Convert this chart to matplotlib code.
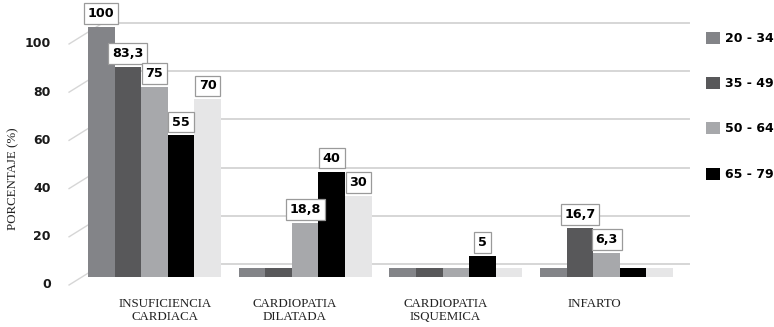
import matplotlib.pyplot as plt
import numpy as np
from matplotlib.patches import Patch

# Porcentaje por patología y grupo de edad
categorias = ['INSUFICIENCIA\nCARDIACA', 'CARDIOPATIA\nDILATADA',
              'CARDIOPATIA\nISQUEMICA', 'INFARTO']
grupos = ['20 - 34', '35 - 49', '50 - 64', '65 - 79', '80 +']
edad_20_34 = [100, 0, 0, 0]
edad_35_49 = [83.3, 0, 0, 16.7]
edad_50_64 = [75, 18.8, 0, 6.3]
edad_65_79 = [55, 40, 5, 0]
edad_80 = [70, 30, 0, 0]
series = [edad_20_34, edad_35_49, edad_50_64, edad_65_79, edad_80]
colores = ['#838488', '#58585a', '#a7a8ab', '#000000', '#e6e6e7']
yticks = [0, 20, 40, 60, 80, 100]

fig = plt.figure(figsize=(7.74, 3.27), dpi=100)
ax = fig.add_axes([0, 0, 1, 1])
ax.set_xlim(-1.0252, 4.1108)
ax.set_ylim(-24.48, 111.2)
ax.axis('off')

x = np.arange(len(categorias))
ancho = 0.1765
suelo = 3.7      # grosor del suelo en la vista 3D
elev = 1.7       # la pared del fondo queda algo más arriba
pared_izq, pared_der = -0.342, 3.547
tick_x, diag_x = -0.687, -0.567
gris = '#d6d6d6'

# Pared del fondo con líneas de división y diagonales del suelo
for g in yticks:
    ax.plot([pared_izq, pared_der], [g + elev, g + elev], color=gris, lw=1.4, zorder=1)
    ax.plot([diag_x, pared_izq], [g - 7.05, g + elev], color=gris, lw=1.0, zorder=1)
    ax.text(tick_x, g - 7.05, str(g), ha='right', va='center',
            fontsize=9, fontweight='bold', color='#1a1a1a')

# Columnas
for j, (vals, col) in enumerate(zip(series, colores)):
    vals = np.array(vals, dtype=float)
    xs = x + (j - 2) * ancho
    ax.bar(xs, vals + suelo, bottom=-suelo, width=ancho, color=col, zorder=3)
    for xi, v in zip(xs, vals):
        if v > 0:
            ax.annotate(f'{v:g}'.replace('.', ','), xy=(xi, v), xytext=(0, 5),
                        textcoords='offset points', ha='center', va='bottom',
                        fontsize=9.2, fontweight='bold', zorder=5,
                        bbox=dict(boxstyle='square,pad=0.3', fc='white',
                                  ec='#9a9a9a', lw=0.9))

# Rótulos de categoría
desplaz = [0.07, -0.07, -0.07, -0.08]
for xi, d, cat in zip(x, desplaz, categorias):
    ax.text(xi + d, -12.6, cat, ha='center', va='top', fontsize=9.3,
            family='Liberation Serif', linespacing=1.12, color='#222222')

ax.text(-0.94, 37, 'PORCENTAJE (%)', rotation=90, ha='center', va='center',
        fontsize=9.3, family='Liberation Serif', color='#222222')

handles = [Patch(facecolor=c, edgecolor='none') for c in colores[:4]]
fig.legend(handles, grupos[:4], loc='upper left',
           bbox_to_anchor=(706 / 774, 1 - 31.5 / 327), frameon=False,
           borderpad=0, borderaxespad=0, handlelength=1.1, handleheight=1.1,
           handletextpad=0.4, labelspacing=2.57,
           prop={'size': 9, 'weight': 'bold'})

fig.savefig('out.png', dpi=100)
